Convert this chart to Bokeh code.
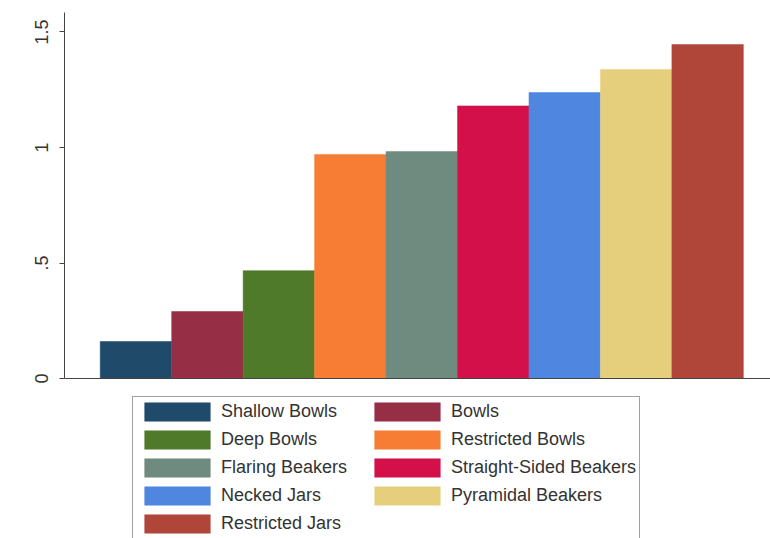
from bokeh.plotting import figure
from bokeh.models import ColumnDataSource, Legend, LegendItem, FixedTicker, Range1d, Span
from bokeh.embed import file_html
from bokeh.resources import INLINE

categories = ["Shallow Bowls", "Bowls", "Deep Bowls", "Restricted Bowls", "Flaring Beakers",
              "Straight-Sided Beakers", "Necked Jars", "Pyramidal Beakers", "Restricted Jars"]
values = [0.16, 0.29, 0.467, 0.97, 0.983, 1.18, 1.238, 1.338, 1.446]
colors = ["#1f4a6a", "#962f46", "#4f7a2a", "#f77d35", "#6f8a7e",
          "#d4104a", "#4f86e0", "#e6cf7c", "#b0463a"]
y_ticks = [0, 0.5, 1, 1.5]
y_tick_labels = ["0", ".5", "1", "1.5"]

Y_TOP = 1.5844
p = figure(frame_width=706, frame_height=526, output_backend="svg", toolbar_location=None,
           x_range=Range1d(0, 9.88), y_range=Range1d(-0.6926, Y_TOP))
p.min_border_left = 64
p.min_border_right = 0
p.min_border_top = 12
p.min_border_bottom = 0
p.outline_line_color = None
p.xgrid.visible = False
p.ygrid.visible = False
p.xaxis.visible = False

renderers = []
for i, (c, v, col) in enumerate(zip(categories, values, colors)):
    src = ColumnDataSource(dict(x=[i + 1], top=[v]))
    r = p.vbar(x="x", top="top", width=1.0, bottom=0, source=src,
               fill_color=col, line_color=col, line_width=0.5)
    renderers.append((c, r))

p.add_layout(Span(location=0, dimension="width", line_color="#444444", line_width=1))

yax = p.yaxis[0]
yax.bounds = (0, Y_TOP)
yax.ticker = FixedTicker(ticks=y_ticks)
yax.major_label_overrides = {t: l for t, l in zip(y_ticks, y_tick_labels)}
yax.major_label_orientation = "vertical"
yax.major_label_text_font = "Liberation Sans"
yax.major_label_text_font_size = "18px"
yax.major_label_text_color = "#333333"
yax.major_label_standoff = 11
yax.major_tick_out = 5
yax.major_tick_in = 0
yax.minor_tick_out = 0
yax.minor_tick_in = 0
yax.axis_line_color = "#444444"
yax.major_tick_line_color = "#444444"

legend = Legend(items=[LegendItem(label=c, renderers=[r]) for c, r in renderers],
                orientation="horizontal", ncols=2, location=(68, -1))
legend.label_text_font = "Liberation Sans"
legend.label_text_font_size = "18px"
legend.label_text_color = "#333333"
legend.glyph_width = 82
legend.glyph_height = 23
legend.label_standoff = 3
legend.label_height = 20
legend.label_width = 140
legend.spacing = 5
legend.padding = 3
legend.margin = 0
legend.border_line_color = "#444444"
legend.border_line_width = 1
legend.background_fill_color = "white"
p.add_layout(legend, "center")

open("out.html", "w").write(file_html(p, INLINE))
